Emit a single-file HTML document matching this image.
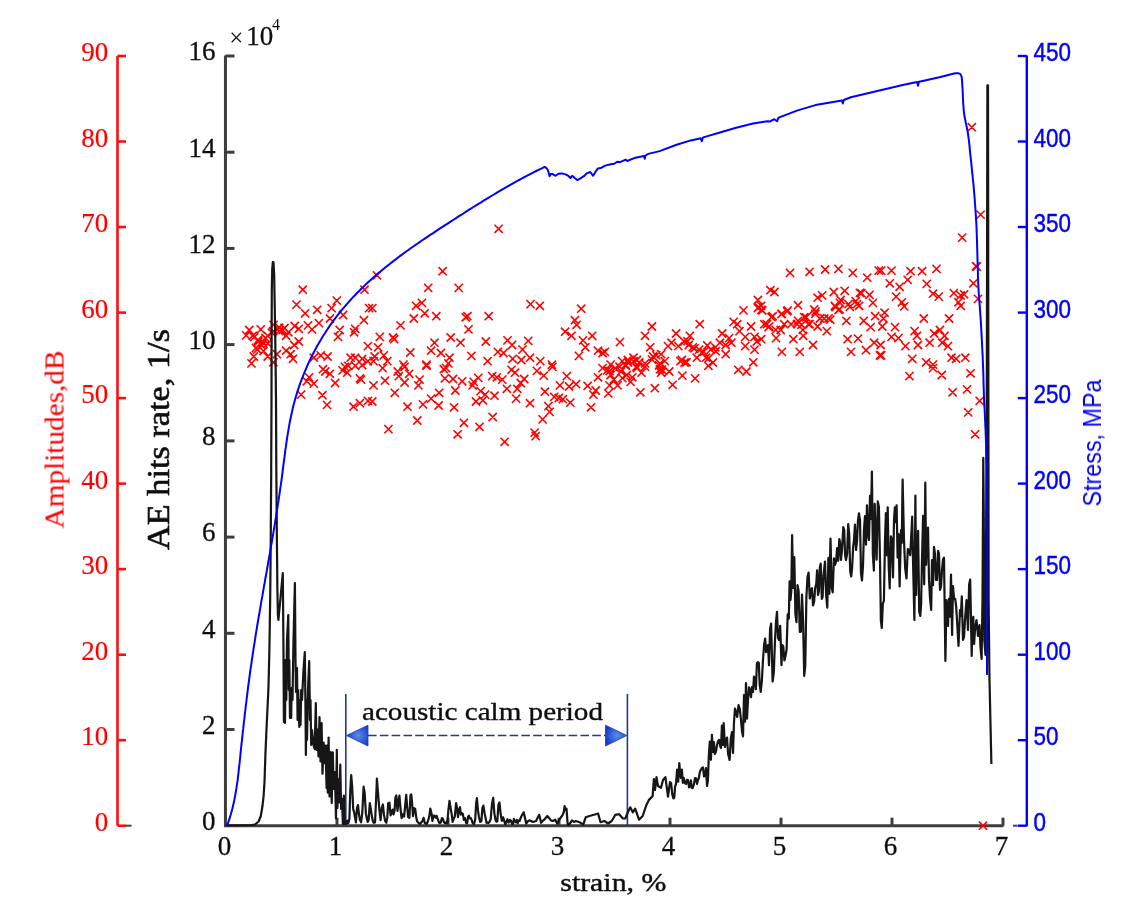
<!DOCTYPE html><html><head><meta charset="utf-8"><style>html,body{margin:0;padding:0;background:#fff;overflow:hidden;}svg{display:block;}</style></head><body><svg width="1130" height="911" viewBox="0 0 1130 911">
<defs><radialGradient id="ag" cx="0.55" cy="0.5" r="0.6"><stop offset="0" stop-color="#5c8fe0"/><stop offset="1" stop-color="#1436c8"/></radialGradient><filter id="bl" filterUnits="userSpaceOnUse" x="0" y="0" width="1130" height="911"><feGaussianBlur stdDeviation="0.65"/></filter></defs>
<rect width="1130" height="911" fill="#fff"/>
<g filter="url(#bl)">
<g stroke="#ff1010" stroke-width="2.6" fill="none">
<path d="M117.5,56.0 L117.5,825.7"/>
<path d="M117.5,825.7 L126,825.7"/>
<path d="M117.5,740.2 L126,740.2"/>
<path d="M117.5,654.7 L126,654.7"/>
<path d="M117.5,569.1 L126,569.1"/>
<path d="M117.5,483.6 L126,483.6"/>
<path d="M117.5,398.1 L126,398.1"/>
<path d="M117.5,312.6 L126,312.6"/>
<path d="M117.5,227.0 L126,227.0"/>
<path d="M117.5,141.5 L126,141.5"/>
<path d="M117.5,56.0 L126,56.0"/>
</g>
<path d="M126,825.7 L131.5,825.7" stroke="#444" stroke-width="2"/>
<g stroke="#3d3d3d" stroke-width="3.0" fill="none">
<path d="M225.45,55.5 L225.45,825.7 L1003.5,825.7"/>
<path d="M225.45,729.5 L234.5,729.5"/>
<path d="M225.45,633.3 L234.5,633.3"/>
<path d="M225.45,537.1 L234.5,537.1"/>
<path d="M225.45,440.9 L234.5,440.9"/>
<path d="M225.45,344.6 L234.5,344.6"/>
<path d="M225.45,248.4 L234.5,248.4"/>
<path d="M225.45,152.2 L234.5,152.2"/>
<path d="M225.45,56.0 L234.5,56.0"/>
<path d="M337.0,825.7 L337.0,817.7"/>
<path d="M448.0,825.7 L448.0,817.7"/>
<path d="M559.0,825.7 L559.0,817.7"/>
<path d="M670.0,825.7 L670.0,817.7"/>
<path d="M781.0,825.7 L781.0,817.7"/>
<path d="M892.0,825.7 L892.0,817.7"/>
<path d="M1003.0,825.7 L1003.0,817.7"/>
</g>
<g stroke="#0000ff" stroke-width="2.4" fill="none">
<path d="M1026.8,55.5 L1026.8,826.2"/>
<path d="M1017.8,825.7 L1026.8,825.7"/>
<path d="M1017.8,740.2 L1026.8,740.2"/>
<path d="M1017.8,654.7 L1026.8,654.7"/>
<path d="M1017.8,569.1 L1026.8,569.1"/>
<path d="M1017.8,483.6 L1026.8,483.6"/>
<path d="M1017.8,398.1 L1026.8,398.1"/>
<path d="M1017.8,312.6 L1026.8,312.6"/>
<path d="M1017.8,227.0 L1026.8,227.0"/>
<path d="M1017.8,141.5 L1026.8,141.5"/>
<path d="M1017.8,56.0 L1026.8,56.0"/>
</g>
<path d="M1013,825.7 L1017.5,825.7" stroke="#444" stroke-width="2"/>
<g stroke="#1f3a93" stroke-width="1.6" fill="none">
<path d="M345.8,694 L345.8,826"/><path d="M627.4,694 L627.4,826"/>
<path d="M368,735.5 L606,735.5" stroke-dasharray="8.6,3.2"/>
</g>
<path d="M346.5,735.5 L368,725.2 L368,746 Z" fill="url(#ag)" stroke="#1a3cc0" stroke-width="0.8"/>
<path d="M626.8,735.5 L605.5,725.2 L605.5,746 Z" fill="url(#ag)" stroke="#1a3cc0" stroke-width="0.8"/>
<path d="M298.7,285.6L306.9,293.8M298.7,293.8L306.9,285.6M292.4,300.5L300.6,308.7M292.4,308.7L300.6,300.5M301.0,309.2L309.2,317.4M301.0,317.4L309.2,309.2M313.1,305.7L321.3,313.9M313.1,313.9L321.3,305.7M332.7,296.5L340.9,304.7M332.7,304.7L340.9,296.5M327.5,304.0L335.7,312.2M327.5,312.2L335.7,304.0M325.8,314.4L334.0,322.6M325.8,322.6L334.0,314.4M339.0,310.9L347.2,319.1M339.0,319.1L347.2,310.9M314.8,319.0L323.0,327.2M314.8,327.2L323.0,319.0M303.9,321.3L312.1,329.5M303.9,329.5L312.1,321.3M307.9,325.3L316.1,333.5M307.9,333.5L316.1,325.3M290.6,321.9L298.8,330.1M290.6,330.1L298.8,321.9M294.7,324.7L302.9,332.9M294.7,332.9L302.9,324.7M360.4,285.6L368.6,293.8M360.4,293.8L368.6,285.6M365.0,304.0L373.2,312.2M365.0,312.2L373.2,304.0M359.8,316.1L368.0,324.3M359.8,324.3L368.0,316.1M351.1,324.7L359.3,332.9M351.1,332.9L359.3,324.7M350.0,328.2L358.2,336.4M350.0,336.4L358.2,328.2M335.6,325.9L343.8,334.1M335.6,334.1L343.8,325.9M333.9,332.8L342.1,341.0M333.9,341.0L342.1,332.8M363.8,342.0L372.0,350.2M363.8,350.2L372.0,342.0M245.1,325.9L253.3,334.1M245.1,334.1L253.3,325.9M256.6,325.3L264.8,333.5M256.6,333.5L264.8,325.3M248.6,331.7L256.8,339.9M248.6,339.9L256.8,331.7M254.3,337.4L262.5,345.6M254.3,345.6L262.5,337.4M258.9,338.6L267.1,346.8M258.9,346.8L267.1,338.6M253.2,345.5L261.4,353.7M253.2,353.7L261.4,345.5M263.6,331.7L271.8,339.9M263.6,339.9L271.8,331.7M269.3,327.0L277.5,335.2M269.3,335.2L277.5,327.0M275.1,323.6L283.3,331.8M275.1,331.8L283.3,323.6M282.0,331.7L290.2,339.9M282.0,339.9L290.2,331.7M278.5,325.9L286.7,334.1M278.5,334.1L286.7,325.9M284.3,328.2L292.5,336.4M284.3,336.4L292.5,328.2M294.7,337.4L302.9,345.6M294.7,345.6L302.9,337.4M290.1,340.9L298.3,349.1M290.1,349.1L298.3,340.9M282.0,346.6L290.2,354.8M282.0,354.8L290.2,346.6M286.6,350.1L294.8,358.3M286.6,358.3L294.8,350.1M288.9,354.7L297.1,362.9M288.9,362.9L297.1,354.7M272.8,350.1L281.0,358.3M272.8,358.3L281.0,350.1M263.6,352.4L271.8,360.6M263.6,360.6L271.8,352.4M249.7,352.4L257.9,360.6M249.7,360.6L257.9,352.4M247.4,359.3L255.6,367.5M247.4,367.5L255.6,359.3M269.3,358.2L277.5,366.4M269.3,366.4L277.5,358.2M309.7,353.6L317.9,361.8M309.7,361.8L317.9,353.6M323.5,352.4L331.7,360.6M323.5,360.6L331.7,352.4M316.6,351.3L324.8,359.5M316.6,359.5L324.8,351.3M346.5,353.6L354.7,361.8M346.5,361.8L354.7,353.6M351.1,353.6L359.3,361.8M351.1,361.8L359.3,353.6M358.1,354.7L366.3,362.9M358.1,362.9L366.3,354.7M363.8,357.0L372.0,365.2M363.8,365.2L372.0,357.0M305.0,373.2L313.2,381.4M305.0,381.4L313.2,373.2M302.7,377.2L310.9,385.4M302.7,385.4L310.9,377.2M309.7,379.5L317.9,387.7M309.7,387.7L317.9,379.5M297.0,390.5L305.2,398.7M297.0,398.7L305.2,390.5M318.3,391.1L326.5,399.3M318.3,399.3L326.5,391.1M322.9,400.8L331.1,409.0M322.9,409.0L331.1,400.8M331.0,378.9L339.2,387.1M331.0,387.1L339.2,378.9M321.2,367.4L329.4,375.6M321.2,375.6L329.4,367.4M318.9,365.1L327.1,373.3M318.9,373.3L327.1,365.1M325.8,369.7L334.0,377.9M325.8,377.9L334.0,369.7M338.5,366.3L346.7,374.5M338.5,374.5L346.7,366.3M343.1,368.6L351.3,376.8M343.1,376.8L351.3,368.6M340.8,362.8L349.0,371.0M340.8,371.0L349.0,362.8M356.9,375.5L365.1,383.7M356.9,383.7L365.1,375.5M355.8,374.3L364.0,382.5M355.8,382.5L364.0,374.3M349.4,402.6L357.6,410.8M349.4,410.8L357.6,402.6M355.8,399.1L364.0,407.3M355.8,407.3L364.0,399.1M363.8,396.8L372.0,405.0M363.8,405.0L372.0,396.8M344.2,361.7L352.4,369.9M344.2,369.9L352.4,361.7M351.1,361.7L359.3,369.9M351.1,369.9L359.3,361.7M358.1,361.1L366.3,369.3M358.1,369.3L366.3,361.1M372.8,271.2L381.0,279.4M372.8,279.4L381.0,271.2M438.5,267.1L446.7,275.3M438.5,275.3L446.7,267.1M424.1,283.8L432.3,292.0M424.1,292.0L432.3,283.8M454.6,283.8L462.8,292.0M454.6,292.0L462.8,283.8M368.2,304.0L376.4,312.2M368.2,312.2L376.4,304.0M412.0,301.7L420.2,309.9M412.0,309.9L420.2,301.7M417.8,298.8L426.0,307.0M417.8,307.0L426.0,298.8M420.6,309.2L428.8,317.4M420.6,317.4L428.8,309.2M432.2,312.1L440.4,320.3M432.2,320.3L440.4,312.1M409.7,314.4L417.9,322.6M409.7,322.6L417.9,314.4M396.4,321.3L404.6,329.5M396.4,329.5L404.6,321.3M461.6,313.2L469.8,321.4M461.6,321.4L469.8,313.2M463.3,312.1L471.5,320.3M463.3,320.3L471.5,312.1M484.6,312.1L492.8,320.3M484.6,320.3L492.8,312.1M464.4,325.3L472.6,333.5M464.4,333.5L472.6,325.3M375.7,332.8L383.9,341.0M375.7,341.0L383.9,332.8M388.9,333.4L397.1,341.6M388.9,341.6L397.1,333.4M390.1,335.1L398.3,343.3M390.1,343.3L398.3,335.1M446.6,333.4L454.8,341.6M446.6,341.6L454.8,333.4M456.4,338.6L464.6,346.8M456.4,346.8L464.6,338.6M481.7,337.4L489.9,345.6M481.7,345.6L489.9,337.4M430.4,338.6L438.6,346.8M430.4,346.8L438.6,338.6M427.0,346.6L435.2,354.8M427.0,354.8L435.2,346.6M436.8,348.9L445.0,357.1M436.8,357.1L445.0,348.9M445.4,353.6L453.6,361.8M445.4,361.8L453.6,353.6M444.3,359.3L452.5,367.5M444.3,367.5L452.5,359.3M406.2,348.4L414.4,356.6M406.2,356.6L414.4,348.4M374.0,343.2L382.2,351.4M374.0,351.4L382.2,343.2M379.7,351.3L387.9,359.5M379.7,359.5L387.9,351.3M370.5,352.4L378.7,360.6M370.5,360.6L378.7,352.4M369.4,357.0L377.6,365.2M369.4,365.2L377.6,357.0M383.2,357.0L391.4,365.2M383.2,365.2L391.4,357.0M399.3,360.5L407.5,368.7M399.3,368.7L407.5,360.5M422.4,360.5L430.6,368.7M422.4,368.7L430.6,360.5M467.3,351.8L475.5,360.0M467.3,360.0L475.5,351.8M483.5,357.0L491.7,365.2M483.5,365.2L491.7,357.0M493.8,347.8L502.0,356.0M493.8,356.0L502.0,347.8M422.4,361.7L430.6,369.9M422.4,369.9L430.6,361.7M442.0,364.0L450.2,372.2M442.0,372.2L450.2,364.0M439.7,365.1L447.9,373.3M439.7,373.3L447.9,365.1M440.8,374.3L449.0,382.5M440.8,382.5L449.0,374.3M448.9,374.9L457.1,383.1M448.9,383.1L457.1,374.9M458.1,377.2L466.3,385.4M458.1,385.4L466.3,377.2M469.6,377.8L477.8,386.0M469.6,386.0L477.8,377.8M468.5,381.3L476.7,389.5M468.5,389.5L476.7,381.3M474.2,373.8L482.4,382.0M474.2,382.0L482.4,373.8M488.1,372.0L496.3,380.2M488.1,380.2L496.3,372.0M492.7,373.2L500.9,381.4M492.7,381.4L500.9,373.2M476.5,387.0L484.7,395.2M476.5,395.2L484.7,387.0M481.1,390.5L489.3,398.7M481.1,398.7L489.3,390.5M490.4,391.6L498.6,399.8M490.4,399.8L498.6,391.6M471.9,397.4L480.1,405.6M471.9,405.6L480.1,397.4M478.8,396.2L487.0,404.4M478.8,404.4L487.0,396.2M451.2,386.4L459.4,394.6M451.2,394.6L459.4,386.4M369.4,381.3L377.6,389.5M369.4,389.5L377.6,381.3M380.9,376.6L389.1,384.8M380.9,384.8L389.1,376.6M378.6,364.0L386.8,372.2M378.6,372.2L386.8,364.0M393.6,367.4L401.8,375.6M393.6,375.6L401.8,367.4M394.7,372.0L402.9,380.2M394.7,380.2L402.9,372.0M400.5,362.8L408.7,371.0M400.5,371.0L408.7,362.8M405.1,369.7L413.3,377.9M405.1,377.9L413.3,369.7M400.5,378.4L408.7,386.6M400.5,386.6L408.7,378.4M415.5,375.5L423.7,383.7M415.5,383.7L423.7,375.5M414.3,381.3L422.5,389.5M414.3,389.5L422.5,381.3M390.7,388.7L398.9,396.9M390.7,396.9L398.9,388.7M368.2,397.4L376.4,405.6M368.2,405.6L376.4,397.4M403.4,402.6L411.6,410.8M403.4,410.8L411.6,402.6M418.9,400.3L427.1,408.5M418.9,408.5L427.1,400.3M427.0,394.5L435.2,402.7M427.0,402.7L435.2,394.5M435.0,388.7L443.2,396.9M435.0,396.9L443.2,388.7M434.5,401.4L442.7,409.6M434.5,409.6L442.7,401.4M450.0,403.2L458.2,411.4M450.0,411.4L458.2,403.2M413.2,416.4L421.4,424.6M413.2,424.6L421.4,416.4M384.3,425.0L392.5,433.2M384.3,433.2L392.5,425.0M453.5,430.2L461.7,438.4M453.5,438.4L461.7,430.2M459.8,418.7L468.0,426.9M459.8,426.9L468.0,418.7M475.4,422.7L483.6,430.9M475.4,430.9L483.6,422.7M488.6,412.9L496.8,421.1M488.6,421.1L496.8,412.9M526.4,300.0L534.6,308.2M526.4,308.2L534.6,300.0M535.7,301.7L543.9,309.9M535.7,309.9L543.9,301.7M577.1,304.6L585.3,312.8M577.1,312.8L585.3,304.6M570.8,316.1L579.0,324.3M570.8,324.3L579.0,316.1M572.5,320.7L580.7,328.9M572.5,328.9L580.7,320.7M561.0,327.6L569.2,335.8M561.0,335.8L569.2,327.6M567.4,331.7L575.6,339.9M567.4,339.9L575.6,331.7M578.9,336.3L587.1,344.5M578.9,344.5L587.1,336.3M588.1,331.7L596.3,339.9M588.1,339.9L596.3,331.7M581.2,343.2L589.4,351.4M581.2,351.4L589.4,343.2M574.8,351.8L583.0,360.0M574.8,360.0L583.0,351.8M593.9,346.6L602.1,354.8M593.9,354.8L602.1,346.6M598.5,348.9L606.7,357.1M598.5,357.1L606.7,348.9M600.8,347.8L609.0,356.0M600.8,356.0L609.0,347.8M615.8,338.0L624.0,346.2M615.8,346.2L624.0,338.0M503.4,336.3L511.6,344.5M503.4,344.5L511.6,336.3M508.0,340.9L516.2,349.1M508.0,349.1L516.2,340.9M524.1,336.8L532.3,345.0M524.1,345.0L532.3,336.8M499.4,348.9L507.6,357.1M499.4,357.1L507.6,348.9M518.4,345.5L526.6,353.7M518.4,353.7L526.6,345.5M508.6,354.7L516.8,362.9M508.6,362.9L516.8,354.7M517.2,355.9L525.4,364.1M517.2,364.1L525.4,355.9M525.9,353.6L534.1,361.8M525.9,361.8L534.1,353.6M536.2,357.0L544.4,365.2M536.2,365.2L544.4,357.0M547.8,360.5L556.0,368.7M547.8,368.7L556.0,360.5M618.1,357.0L626.3,365.2M618.1,365.2L626.3,357.0M623.8,355.9L632.0,364.1M623.8,364.1L632.0,355.9M606.5,360.5L614.7,368.7M606.5,368.7L614.7,360.5M621.5,360.5L629.7,368.7M621.5,368.7L629.7,360.5M507.4,365.7L515.6,373.9M507.4,373.9L515.6,365.7M510.9,368.6L519.1,376.8M510.9,376.8L519.1,368.6M498.2,375.5L506.4,383.7M498.2,383.7L506.4,375.5M520.1,374.9L528.3,383.1M520.1,383.1L528.3,374.9M516.6,378.9L524.8,387.1M516.6,387.1L524.8,378.9M502.8,384.7L511.0,392.9M502.8,392.9L511.0,384.7M513.2,384.7L521.4,392.9M513.2,392.9L521.4,384.7M512.0,394.5L520.2,402.7M512.0,402.7L520.2,394.5M525.9,399.1L534.1,407.3M525.9,407.3L534.1,399.1M532.8,366.8L541.0,375.0M532.8,375.0L541.0,366.8M539.7,371.5L547.9,379.7M539.7,379.7L547.9,371.5M548.3,362.8L556.5,371.0M548.3,371.0L556.5,362.8M562.7,372.0L570.9,380.2M562.7,380.2L570.9,372.0M555.8,381.3L564.0,389.5M555.8,389.5L564.0,381.3M565.0,382.4L573.2,390.6M565.0,390.6L573.2,382.4M572.0,380.1L580.2,388.3M572.0,388.3L580.2,380.1M583.5,381.8L591.7,390.0M583.5,390.0L591.7,381.8M591.6,386.4L599.8,394.6M591.6,394.6L599.8,386.4M589.3,390.5L597.5,398.7M589.3,398.7L597.5,390.5M593.9,373.2L602.1,381.4M593.9,381.4L602.1,373.2M603.1,366.3L611.3,374.5M603.1,374.5L611.3,366.3M606.5,370.9L614.7,379.1M606.5,379.1L614.7,370.9M611.1,364.0L619.3,372.2M611.1,372.2L619.3,364.0M616.9,367.4L625.1,375.6M616.9,375.6L625.1,367.4M622.7,370.9L630.9,379.1M622.7,379.1L630.9,370.9M605.4,381.3L613.6,389.5M605.4,389.5L613.6,381.3M613.5,381.3L621.7,389.5M613.5,389.5L621.7,381.3M604.2,389.3L612.4,397.5M604.2,397.5L612.4,389.3M540.8,387.6L549.0,395.8M540.8,395.8L549.0,387.6M550.1,392.8L558.3,401.0M550.1,401.0L558.3,392.8M554.7,393.9L562.9,402.1M554.7,402.1L562.9,393.9M558.7,395.1L566.9,403.3M558.7,403.3L566.9,395.1M566.2,398.5L574.4,406.7M566.2,406.7L574.4,398.5M544.3,402.0L552.5,410.2M544.3,410.2L552.5,402.0M545.5,407.8L553.7,416.0M545.5,416.0L553.7,407.8M538.5,415.3L546.7,423.5M538.5,423.5L546.7,415.3M530.5,428.5L538.7,436.7M530.5,436.7L538.7,428.5M531.6,432.0L539.8,440.2M531.6,440.2L539.8,432.0M500.5,437.7L508.7,445.9M500.5,445.9L508.7,437.7M586.9,403.2L595.1,411.4M586.9,411.4L595.1,403.2M621.5,361.7L629.7,369.9M621.5,369.9L629.7,361.7M647.8,322.4L656.0,330.6M647.8,330.6L656.0,322.4M640.9,331.7L649.1,339.9M640.9,339.9L649.1,331.7M646.1,343.2L654.3,351.4M646.1,351.4L654.3,343.2M672.0,329.4L680.2,337.6M672.0,337.6L680.2,329.4M685.8,331.7L694.0,339.9M685.8,339.9L694.0,331.7M695.6,320.1L703.8,328.3M695.6,328.3L703.8,320.1M739.4,306.3L747.6,314.5M739.4,314.5L747.6,306.3M753.8,295.9L762.0,304.1M753.8,304.1L762.0,295.9M753.8,304.0L762.0,312.2M753.8,312.2L762.0,304.0M729.6,317.8L737.8,326.0M729.6,326.0L737.8,317.8M733.1,320.1L741.3,328.3M733.1,328.3L741.3,320.1M746.9,322.4L755.1,330.6M746.9,330.6L755.1,322.4M718.1,329.4L726.3,337.6M718.1,337.6L726.3,329.4M725.0,334.0L733.2,342.2M725.0,342.2L733.2,334.0M735.4,327.0L743.6,335.2M735.4,335.2L743.6,327.0M741.1,332.8L749.3,341.0M741.1,341.0L749.3,332.8M750.4,332.8L758.6,341.0M750.4,341.0L758.6,332.8M752.7,337.4L760.9,345.6M752.7,345.6L760.9,337.4M629.4,353.6L637.6,361.8M629.4,361.8L637.6,353.6M632.8,355.9L641.0,364.1M632.8,364.1L641.0,355.9M648.9,352.4L657.1,360.6M648.9,360.6L657.1,352.4M657.0,350.1L665.2,358.3M657.0,358.3L665.2,350.1M663.9,342.0L672.1,350.2M663.9,350.2L672.1,342.0M667.4,338.6L675.6,346.8M667.4,346.8L675.6,338.6M674.3,342.0L682.5,350.2M674.3,350.2L682.5,342.0M680.1,337.4L688.3,345.6M680.1,345.6L688.3,337.4M684.7,340.9L692.9,349.1M684.7,349.1L692.9,340.9M688.7,343.2L696.9,351.4M688.7,351.4L696.9,343.2M695.0,345.5L703.2,353.7M695.0,353.7L703.2,345.5M699.7,347.8L707.9,356.0M699.7,356.0L707.9,347.8M702.0,353.6L710.2,361.8M702.0,361.8L710.2,353.6M706.6,345.5L714.8,353.7M706.6,353.7L714.8,345.5M711.2,343.2L719.4,351.4M711.2,351.4L719.4,343.2M715.8,338.6L724.0,346.8M715.8,346.8L724.0,338.6M721.6,340.9L729.8,349.1M721.6,349.1L729.8,340.9M721.6,350.1L729.8,358.3M721.6,358.3L729.8,350.1M727.3,338.6L735.5,346.8M727.3,346.8L735.5,338.6M741.1,342.0L749.3,350.2M741.1,350.2L749.3,342.0M750.4,345.5L758.6,353.7M750.4,353.7L758.6,345.5M749.2,358.2L757.4,366.4M749.2,366.4L757.4,358.2M677.8,355.9L686.0,364.1M677.8,364.1L686.0,355.9M682.4,358.2L690.6,366.4M682.4,366.4L690.6,358.2M692.7,353.6L700.9,361.8M692.7,361.8L700.9,353.6M655.9,359.3L664.1,367.5M655.9,367.5L664.1,359.3M640.9,359.3L649.1,367.5M640.9,367.5L649.1,359.3M632.8,364.0L641.0,372.2M632.8,372.2L641.0,364.0M637.4,368.6L645.6,376.8M637.4,376.8L645.6,368.6M628.2,373.2L636.4,381.4M628.2,381.4L636.4,373.2M626.5,377.8L634.7,386.0M626.5,386.0L634.7,377.8M636.3,388.2L644.5,396.4M636.3,396.4L644.5,388.2M650.7,384.1L658.9,392.3M650.7,392.3L658.9,384.1M655.9,365.1L664.1,373.3M655.9,373.3L664.1,365.1M657.0,368.6L665.2,376.8M657.0,376.8L665.2,368.6M665.1,367.4L673.3,375.6M665.1,375.6L673.3,367.4M668.5,380.7L676.7,388.9M668.5,388.9L676.7,380.7M678.3,371.5L686.5,379.7M678.3,379.7L686.5,371.5M691.0,374.3L699.2,382.5M691.0,382.5L699.2,374.3M704.3,361.7L712.5,369.9M704.3,369.9L712.5,361.7M734.2,365.7L742.4,373.9M734.2,373.9L742.4,365.7M742.3,367.4L750.5,375.6M742.3,375.6L750.5,367.4M785.9,268.8L794.1,277.0M785.9,277.0L794.1,268.8M805.5,267.7L813.7,275.9M805.5,275.9L813.7,267.7M821.0,265.4L829.2,273.6M821.0,273.6L829.2,265.4M834.3,264.8L842.5,273.0M834.3,273.0L842.5,264.8M848.7,268.8L856.9,277.0M848.7,277.0L856.9,268.8M863.1,273.5L871.3,281.7M863.1,281.7L871.3,273.5M874.6,266.5L882.8,274.7M874.6,274.7L882.8,266.5M766.3,286.1L774.5,294.3M766.3,294.3L774.5,286.1M770.3,287.9L778.5,296.1M770.3,296.1L778.5,287.9M757.1,301.7L765.3,309.9M757.1,309.9L765.3,301.7M758.2,306.3L766.4,314.5M758.2,314.5L766.4,306.3M813.5,293.6L821.7,301.8M813.5,301.8L821.7,293.6M818.1,291.3L826.3,299.5M818.1,299.5L826.3,291.3M829.7,287.9L837.9,296.1M829.7,296.1L837.9,287.9M840.6,286.7L848.8,294.9M840.6,294.9L848.8,286.7M857.3,289.0L865.5,297.2M857.3,297.2L865.5,289.0M865.4,290.7L873.6,298.9M865.4,298.9L873.6,290.7M868.8,298.8L877.0,307.0M868.8,307.0L877.0,298.8M851.6,297.1L859.8,305.3M851.6,305.3L859.8,297.1M855.0,301.7L863.2,309.9M855.0,309.9L863.2,301.7M845.8,302.8L854.0,311.0M845.8,311.0L854.0,302.8M836.6,295.9L844.8,304.1M836.6,304.1L844.8,295.9M830.8,301.7L839.0,309.9M830.8,309.9L839.0,301.7M835.4,305.2L843.6,313.4M835.4,313.4L843.6,305.2M826.2,315.5L834.4,323.7M826.2,323.7L834.4,315.5M842.3,316.7L850.5,324.9M842.3,324.9L850.5,316.7M793.9,301.1L802.1,309.3M793.9,309.3L802.1,301.1M783.6,306.3L791.8,314.5M783.6,314.5L791.8,306.3M777.8,309.8L786.0,318.0M777.8,318.0L786.0,309.8M768.6,312.1L776.8,320.3M768.6,320.3L776.8,312.1M762.8,320.1L771.0,328.3M762.8,328.3L771.0,320.1M765.1,322.4L773.3,330.6M765.1,330.6L773.3,322.4M810.1,305.2L818.3,313.4M810.1,313.4L818.3,305.2M811.2,309.8L819.4,318.0M811.2,318.0L819.4,309.8M802.0,313.2L810.2,321.4M802.0,321.4L810.2,313.2M793.9,316.7L802.1,324.9M793.9,324.9L802.1,316.7M797.4,320.7L805.6,328.9M797.4,328.9L805.6,320.7M805.5,320.1L813.7,328.3M805.5,328.3L813.7,320.1M813.5,322.4L821.7,330.6M813.5,330.6L821.7,322.4M822.7,327.0L830.9,335.2M822.7,335.2L830.9,327.0M776.6,325.9L784.8,334.1M776.6,334.1L784.8,325.9M787.0,320.1L795.2,328.3M787.0,328.3L795.2,320.1M772.0,334.0L780.2,342.2M772.0,342.2L780.2,334.0M789.3,335.1L797.5,343.3M789.3,343.3L797.5,335.1M799.1,331.7L807.3,339.9M799.1,339.9L807.3,331.7M808.9,340.9L817.1,349.1M808.9,349.1L817.1,340.9M777.8,347.8L786.0,356.0M777.8,356.0L786.0,347.8M795.7,347.8L803.9,356.0M795.7,356.0L803.9,347.8M859.6,316.7L867.8,324.9M859.6,324.9L867.8,316.7M866.5,323.0L874.7,331.2M866.5,331.2L874.7,323.0M871.1,312.1L879.3,320.3M871.1,320.3L879.3,312.1M843.5,335.1L851.7,343.3M843.5,343.3L851.7,335.1M853.9,334.5L862.1,342.7M853.9,342.7L862.1,334.5M846.9,347.8L855.1,356.0M846.9,356.0L855.1,347.8M861.9,346.1L870.1,354.3M861.9,354.3L870.1,346.1M870.0,338.6L878.2,346.8M870.0,346.8L878.2,338.6M875.8,351.3L884.0,359.5M875.8,359.5L884.0,351.3M757.1,335.1L765.3,343.3M757.1,343.3L765.3,335.1M877.1,266.5L885.3,274.7M877.1,274.7L885.3,266.5M887.4,266.5L895.6,274.7M887.4,274.7L895.6,266.5M906.4,267.1L914.6,275.3M906.4,275.3L914.6,267.1M918.0,267.1L926.2,275.3M918.0,275.3L926.2,267.1M932.4,264.8L940.6,273.0M932.4,273.0L940.6,264.8M972.7,262.5L980.9,270.7M972.7,270.7L980.9,262.5M885.7,279.2L893.9,287.4M885.7,287.4L893.9,279.2M895.5,282.7L903.7,290.9M895.5,290.9L903.7,282.7M903.6,275.8L911.8,284.0M903.6,284.0L911.8,275.8M922.6,279.8L930.8,288.0M922.6,288.0L930.8,279.8M928.9,289.6L937.1,297.8M928.9,297.8L937.1,289.6M934.7,292.5L942.9,300.7M934.7,300.7L942.9,292.5M949.7,289.0L957.9,297.2M949.7,297.2L957.9,289.0M956.6,291.3L964.8,299.5M956.6,299.5L964.8,291.3M960.0,290.2L968.2,298.4M960.0,298.4L968.2,290.2M954.3,298.2L962.5,306.4M954.3,306.4L962.5,298.2M956.6,301.7L964.8,309.9M956.6,309.9L964.8,301.7M969.3,279.2L977.5,287.4M969.3,287.4L977.5,279.2M973.9,294.8L982.1,303.0M973.9,303.0L982.1,294.8M892.0,292.5L900.2,300.7M892.0,300.7L900.2,292.5M897.8,298.2L906.0,306.4M897.8,306.4L906.0,298.2M900.1,302.3L908.3,310.5M900.1,310.5L908.3,302.3M880.5,308.6L888.7,316.8M880.5,316.8L888.7,308.6M879.4,314.4L887.6,322.6M879.4,322.6L887.6,314.4M878.2,322.4L886.4,330.6M878.2,330.6L886.4,322.4M890.9,323.0L899.1,331.2M890.9,331.2L899.1,323.0M887.4,332.8L895.6,341.0M887.4,341.0L895.6,332.8M894.3,334.0L902.5,342.2M894.3,342.2L902.5,334.0M901.3,342.0L909.5,350.2M901.3,350.2L909.5,342.0M910.5,327.0L918.7,335.2M910.5,335.2L918.7,327.0M912.8,331.7L921.0,339.9M912.8,339.9L921.0,331.7M913.9,340.9L922.1,349.1M913.9,349.1L922.1,340.9M919.7,314.4L927.9,322.6M919.7,322.6L927.9,314.4M925.5,338.6L933.7,346.8M925.5,346.8L933.7,338.6M930.1,329.4L938.3,337.6M930.1,337.6L938.3,329.4M935.8,325.9L944.0,334.1M935.8,334.1L944.0,325.9M940.4,331.7L948.6,339.9M940.4,339.9L948.6,331.7M938.1,338.6L946.3,346.8M938.1,346.8L946.3,338.6M945.0,314.4L953.2,322.6M945.0,322.6L953.2,314.4M943.9,342.0L952.1,350.2M943.9,350.2L952.1,342.0M947.4,353.6L955.6,361.8M947.4,361.8L955.6,353.6M952.0,354.7L960.2,362.9M952.0,362.9L960.2,354.7M961.2,353.6L969.4,361.8M961.2,361.8L969.4,353.6M908.2,354.7L916.4,362.9M908.2,362.9L916.4,354.7M922.0,358.2L930.2,366.4M922.0,366.4L930.2,358.2M928.9,360.5L937.1,368.7M928.9,368.7L937.1,360.5M877.1,351.3L885.3,359.5M877.1,359.5L885.3,351.3M876.5,340.9L884.7,349.1M876.5,349.1L884.7,340.9M928.9,364.0L937.1,372.2M928.9,372.2L937.1,364.0M937.6,370.9L945.8,379.1M937.6,379.1L945.8,370.9M905.3,372.0L913.5,380.2M905.3,380.2L913.5,372.0M966.4,369.2L974.6,377.4M966.4,377.4L974.6,369.2M948.5,388.2L956.7,396.4M948.5,396.4L956.7,388.2M962.9,385.3L971.1,393.5M962.9,393.5L971.1,385.3M975.6,396.8L983.8,405.0M975.6,405.0L983.8,396.8M964.1,408.3L972.3,416.5M964.1,416.5L972.3,408.3M971.0,430.2L979.2,438.4M971.0,438.4L979.2,430.2M494.5,224.7L502.7,232.9M494.5,232.9L502.7,224.7M967.7,123.1L975.9,131.3M967.7,131.3L975.9,123.1M976.5,210.5L984.7,218.7M976.5,218.7L984.7,210.5M958.1,233.5L966.3,241.7M958.1,241.7L966.3,233.5M971.9,262.2L980.1,270.4M971.9,270.4L980.1,262.2M978.9,821.6L987.1,829.8M978.9,829.8L987.1,821.6M754.5,303.0L762.7,311.2M754.5,311.2L762.7,303.0M757.3,305.8L765.5,314.0M757.3,314.0L765.5,305.8M760.2,320.1L768.4,328.3M760.2,328.3L768.4,320.1M764.4,323.0L772.6,331.2M764.4,331.2L772.6,323.0M767.3,313.0L775.5,321.2M767.3,321.2L775.5,313.0M777.3,310.1L785.5,318.3M777.3,318.3L785.5,310.1M783.0,307.3L791.2,315.5M783.0,315.5L791.2,307.3M780.1,320.1L788.3,328.3M780.1,328.3L788.3,320.1M793.0,320.1L801.2,328.3M793.0,328.3L801.2,320.1M800.1,313.0L808.3,321.2M800.1,321.2L808.3,313.0M804.4,320.1L812.6,328.3M804.4,328.3L812.6,320.1M811.5,307.3L819.7,315.5M811.5,315.5L819.7,307.3M815.8,314.4L824.0,322.6M815.8,322.6L824.0,314.4M820.1,314.4L828.3,322.6M820.1,322.6L828.3,314.4M824.4,314.4L832.6,322.6M824.4,322.6L832.6,314.4M831.5,303.0L839.7,311.2M831.5,311.2L839.7,303.0M834.4,305.8L842.6,314.0M834.4,314.0L842.6,305.8M835.8,298.7L844.0,306.9M835.8,306.9L844.0,298.7M844.4,300.1L852.6,308.3M844.4,308.3L852.6,300.1M852.9,300.1L861.1,308.3M852.9,308.3L861.1,300.1M855.8,288.7L864.0,296.9M855.8,296.9L864.0,288.7M771.6,325.8L779.8,334.0M771.6,334.0L779.8,325.8M798.7,325.8L806.9,334.0M798.7,334.0L806.9,325.8M635.2,358.4L643.4,366.6M635.2,366.6L643.4,358.4M640.9,362.6L649.1,370.8M640.9,370.8L649.1,362.6M647.9,355.5L656.1,363.7M647.9,363.7L656.1,355.5M655.0,361.2L663.2,369.4M655.0,369.4L663.2,361.2M657.8,365.5L666.0,373.7M657.8,373.7L666.0,365.5M660.7,357.0L668.9,365.2M660.7,365.2L668.9,357.0M652.2,351.3L660.4,359.5M652.2,359.5L660.4,351.3M690.4,344.2L698.6,352.4M690.4,352.4L698.6,344.2M697.5,348.5L705.7,356.7M697.5,356.7L705.7,348.5M704.6,354.1L712.8,362.3M704.6,362.3L712.8,354.1M708.8,358.4L717.0,366.6M708.8,366.6L717.0,358.4M711.7,347.1L719.9,355.3M711.7,355.3L719.9,347.1M703.2,341.4L711.4,349.6M703.2,349.6L711.4,341.4M683.3,337.1L691.5,345.3M683.3,345.3L691.5,337.1M676.3,357.0L684.5,365.2M676.3,365.2L684.5,357.0M680.5,358.4L688.7,366.6M680.5,366.6L688.7,358.4M629.5,357.0L637.7,365.2M629.5,365.2L637.7,357.0M632.4,362.6L640.6,370.8M632.4,370.8L640.6,362.6M623.9,358.4L632.1,366.6M623.9,366.6L632.1,358.4M615.4,362.6L623.6,370.8M615.4,370.8L623.6,362.6M605.5,366.9L613.7,375.1M605.5,375.1L613.7,366.9M609.7,375.4L617.9,383.6M609.7,383.6L617.9,375.4M618.2,374.0L626.4,382.2M618.2,382.2L626.4,374.0M598.4,364.0L606.6,372.2M598.4,372.2L606.6,364.0M253.9,335.9L262.1,344.1M253.9,344.1L262.1,335.9M257.9,341.4L266.1,349.6M257.9,349.6L266.1,341.4M261.4,333.9L269.6,342.1M261.4,342.1L269.6,333.9M251.9,343.9L260.1,352.1M251.9,352.1L260.1,343.9M259.4,346.9L267.6,355.1M259.4,355.1L267.6,346.9M263.9,339.4L272.1,347.6M263.9,347.6L272.1,339.4M274.9,326.9L283.1,335.1M274.9,335.1L283.1,326.9M280.4,323.9L288.6,332.1M280.4,332.1L288.6,323.9M242.1,331.3L250.3,339.5M242.1,339.5L250.3,331.3M250.1,333.1L258.3,341.3M250.1,341.3L258.3,333.1M267.8,328.6L276.0,336.8M267.8,336.8L276.0,328.6M269.5,320.7L277.7,328.9M269.5,328.9L277.7,320.7M258.9,338.4L267.1,346.6M258.9,346.6L267.1,338.4" stroke="#ff0000" stroke-width="1.6" fill="none"/>
<path d="M226.0,825.3 L251.6,825.0 L255.0,824.5 L258.6,821.5 L260.8,816.0 L262.5,806.0 L263.6,796.0 L264.5,782.0 L265.5,752.0 L266.5,729.0 L267.5,708.0 L268.4,689.5 L269.4,650.0 L270.3,590.0 L270.8,530.0 L271.2,470.0 L271.5,400.0 L271.6,330.0 L271.8,290.0 L272.2,270.0 L272.8,262.0 L273.5,262.5 L274.2,275.0 L274.6,300.0 L275.3,340.0 L276.0,400.0 L276.3,465.0 L276.8,530.0 L277.4,590.0 L277.9,615.0 L278.4,620.0 L280.5,598.0 L282.8,573.0 L283.4,640.0 L283.9,722.0 L284.4,680.0 L285.0,723.0 L285.6,660.0 L286.3,700.0 L287.0,640.0 L288.3,615.0 L288.8,690.0 L289.3,660.0 L290.0,718.0 L290.5,690.0 L291.2,718.0 L291.6,688.0 L292.5,700.0 L293.5,640.0 L294.9,583.0 L295.5,660.0 L296.0,692.0 L296.5,670.0 L297.0,668.0 L297.6,720.0 L298.2,690.0 L299.3,727.0 L300.0,700.0 L300.5,725.0 L301.2,690.0 L302.0,700.0 L303.5,670.0 L304.8,652.0 L305.4,700.0 L305.9,755.0 L306.5,700.0 L307.0,740.0 L308.0,690.0 L309.2,661.0 L310.0,720.0 L310.5,700.0 L311.2,745.0 L312.0,730.0 L313.5,745.0 L314.7,749.0 L315.8,703.0 L316.6,750.0 L317.6,729.6 L318.5,756.4 L319.5,717.0 L320.5,761.4 L321.6,723.0 L322.5,773.7 L323.6,742.5 L324.3,763.2 L325.5,745.7 L326.6,788.2 L327.2,745.5 L327.8,792.6 L328.6,737.5 L329.5,796.4 L330.7,752.2 L331.7,803.1 L332.8,752.3 L333.6,788.9 L334.9,772.0 L336.0,818.5 L336.8,749.8 L337.4,807.9 L338.3,779.3 L339.2,802.5 L340.3,764.7 L341.1,808.9 L342.0,798.8 L342.9,824.0 L343.9,795.7 L344.7,824.0 L345.5,823.2 L346.4,823.9 L347.2,820.5 L348.3,823.1 L349.4,818.9 L350.3,790.2 L351.2,775.0 L352.2,787.3 L353.2,809.3 L354.0,811.5 L355.0,817.5 L355.9,822.3 L357.0,808.1 L358.0,805.1 L359.0,814.3 L359.9,819.7 L361.1,822.3 L362.3,812.6 L363.6,786.7 L364.6,792.6 L365.9,813.4 L366.8,818.5 L367.7,822.0 L368.6,820.2 L369.8,803.0 L371.1,811.0 L372.0,817.1 L372.9,821.3 L373.7,822.8 L375.0,822.5 L376.1,799.9 L376.9,778.6 L378.2,795.2 L379.3,808.9 L380.6,820.1 L381.7,808.2 L382.9,804.5 L383.9,814.4 L385.1,820.8 L386.3,822.7 L387.3,817.4 L388.2,803.4 L389.4,802.6 L390.6,815.3 L391.8,812.4 L392.6,809.6 L393.5,814.4 L394.6,810.5 L395.4,797.6 L396.3,795.5 L397.5,811.0 L398.4,801.9 L399.4,795.6 L400.7,810.6 L401.6,818.1 L402.8,814.2 L404.1,816.6 L405.1,806.3 L406.2,794.9 L407.1,805.8 L408.1,816.8 L409.4,817.9 L410.5,795.1 L411.3,794.5 L412.1,803.4 L413.0,816.2 L414.0,808.1 L415.2,809.0 L416.1,816.2 L416.9,820.6 L417.8,822.2 L418.9,823.3 L420.1,823.9 L421.4,822.3 L422.5,821.1 L423.6,817.8 L424.7,822.7 L426.0,823.8 L426.9,823.6 L428.0,821.0 L429.3,816.3 L430.3,808.5 L431.6,813.7 L432.4,821.0 L433.6,815.6 L434.8,815.9 L435.7,817.7 L436.6,815.8 L437.7,818.9 L439.0,822.4 L439.8,823.2 L440.8,822.4 L441.9,818.1 L442.8,818.7 L444.1,822.3 L445.3,823.3 L446.2,822.3 L447.3,823.3 L448.4,810.0 L449.5,800.9 L450.3,806.3 L451.6,813.6 L452.6,821.8 L453.8,818.6 L454.8,816.6 L456.1,803.0 L456.9,807.1 L458.0,817.1 L459.1,809.2 L460.0,807.2 L460.9,814.6 L461.9,813.1 L462.8,813.9 L463.9,819.8 L465.0,818.2 L466.2,822.9 L467.1,823.3 L468.0,817.1 L468.9,815.7 L469.8,818.3 L470.8,818.0 L471.8,820.4 L472.7,823.2 L474.0,824.0 L475.2,819.7 L476.1,803.8 L476.9,798.1 L478.0,810.4 L478.9,817.0 L480.2,822.0 L481.4,820.9 L482.4,808.0 L483.4,805.6 L484.6,813.2 L485.6,818.1 L486.5,822.8 L487.3,822.6 L488.4,823.1 L489.4,822.0 L490.7,819.3 L492.0,803.5 L493.2,797.9 L494.4,813.6 L495.6,820.3 L496.5,821.7 L497.3,821.5 L498.4,804.7 L499.5,802.5 L500.6,813.8 L501.9,820.8 L503.1,817.4 L504.2,820.6 L505.2,824.1 L506.2,822.7 L507.4,819.4 L508.7,822.5 L509.8,819.8 L510.9,820.6 L512.2,824.1 L513.1,824.0 L513.9,818.9 L515.0,821.4 L515.9,822.3 L516.9,820.0 L517.7,823.3 L518.5,820.6 L519.8,820.8 L520.0,819.7 L521.5,816.0 L523.7,812.3 L525.0,818.0 L526.2,823.5 L528.0,821.0 L529.9,820.4 L533.0,822.0 L536.1,821.0 L537.5,818.0 L539.2,814.8 L541.1,822.8 L542.5,821.0 L544.2,819.7 L547.3,816.0 L549.0,818.0 L551.0,820.4 L553.0,821.0 L555.3,819.7 L557.2,823.5 L560.9,817.3 L562.7,814.8 L563.8,812.0 L564.6,806.1 L565.5,810.0 L566.5,808.6 L567.7,824.7 L569.5,824.2 L572.0,820.4 L574.0,822.0 L575.8,821.0 L579.5,822.2 L583.2,824.7 L585.7,817.3 L589.4,816.0 L594.0,814.8 L598.1,813.5 L600.5,822.2 L604.3,821.0 L606.0,822.0 L608.0,823.5 L611.7,821.0 L615.4,814.8 L619.1,814.2 L622.9,818.5 L625.3,818.5 L627.8,812.3 L630.3,807.3 L632.8,812.3 L635.2,808.6 L639.0,819.7 L642.7,816.0 L646.4,804.9 L648.9,799.9 L652.6,796.2 L653.9,779.0 L655.0,790.0 L656.5,777.2 L658.0,786.0 L661.0,787.8 L663.0,780.0 L665.4,777.2 L668.0,796.6 L670.0,782.0 L671.1,783.0 L672.3,794.5 L673.4,798.4 L674.3,797.4 L675.1,786.4 L676.0,784.0 L677.1,769.5 L678.2,781.7 L679.3,763.0 L680.1,773.5 L681.0,778.0 L681.9,769.5 L682.8,782.8 L683.7,777.8 L684.9,783.0 L686.0,784.0 L687.0,779.8 L688.0,780.0 L689.0,787.3 L690.0,786.0 L690.9,780.3 L691.7,787.8 L692.6,788.1 L693.8,784.7 L695.0,778.0 L696.0,778.3 L697.0,783.9 L698.0,780.0 L698.9,777.9 L699.9,771.7 L700.8,770.0 L701.9,768.0 L703.0,767.4 L704.0,776.3 L705.0,776.0 L706.0,768.1 L707.0,786.0 L707.9,780.8 L708.8,756.0 L709.8,741.5 L710.9,759.8 L711.9,734.8 L713.0,752.0 L713.9,742.1 L714.8,754.0 L715.9,751.8 L717.0,745.0 L718.2,740.7 L719.4,740.0 L720.2,746.3 L721.0,748.0 L721.9,725.5 L722.8,745.0 L723.7,723.0 L724.9,747.0 L726.0,740.0 L727.0,737.6 L728.1,754.0 L729.6,760.0 L730.8,738.4 L732.0,732.0 L733.0,752.9 L734.0,722.0 L735.0,708.5 L736.0,712.0 L737.2,717.0 L738.5,705.2 L739.8,709.2 L741.0,720.0 L742.0,731.5 L743.0,736.3 L744.0,695.0 L745.0,721.7 L746.0,683.0 L747.0,718.6 L748.0,700.0 L749.0,687.4 L750.0,690.0 L751.0,697.2 L752.0,687.2 L753.0,692.0 L754.0,676.5 L755.0,680.0 L755.9,689.1 L756.9,663.4 L757.8,662.2 L758.8,662.7 L759.7,684.7 L760.7,691.9 L761.9,680.5 L763.0,660.0 L764.1,644.8 L765.2,638.5 L766.1,652.2 L767.0,650.0 L768.0,645.0 L769.0,665.1 L770.1,628.6 L771.1,623.7 L772.6,681.5 L773.8,672.7 L775.0,640.0 L776.0,621.8 L777.0,611.9 L778.0,637.8 L779.0,640.0 L780.2,625.9 L781.5,665.2 L782.2,645.0 L783.3,646.5 L784.4,660.4 L785.5,656.0 L786.6,649.5 L787.7,614.4 L788.8,618.7 L789.6,581.4 L790.5,600.0 L791.3,590.9 L792.1,535.2 L793.2,588.0 L794.3,557.0 L795.4,614.3 L796.5,622.1 L797.5,585.0 L798.6,590.8 L799.8,631.9 L800.9,631.6 L802.0,594.5 L803.1,622.1 L804.2,675.8 L805.3,665.3 L806.4,596.7 L807.5,577.0 L808.6,572.5 L809.8,598.5 L811.0,590.0 L812.0,588.2 L813.0,605.5 L814.1,601.9 L815.2,587.9 L816.3,583.5 L817.1,570.4 L818.0,595.0 L818.9,591.3 L819.8,567.4 L820.7,563.7 L821.8,598.9 L822.6,597.0 L823.5,575.0 L825.0,561.5 L826.1,594.9 L827.3,607.7 L828.4,557.9 L829.4,593.8 L830.5,538.5 L831.6,587.0 L832.7,592.3 L833.9,558.3 L835.0,565.0 L836.1,561.6 L837.1,548.0 L838.2,560.6 L839.3,539.0 L840.1,542.8 L841.0,560.0 L842.1,548.4 L843.3,527.0 L844.2,529.8 L845.1,555.0 L846.0,560.0 L847.1,553.9 L848.2,524.0 L849.2,534.0 L850.2,571.5 L851.2,576.5 L852.1,567.9 L853.1,547.6 L854.0,540.0 L855.0,524.5 L856.0,550.0 L857.0,541.4 L858.0,520.2 L859.0,513.3 L860.0,520.4 L861.0,573.0 L862.0,580.5 L863.0,565.8 L864.0,530.0 L865.0,516.2 L866.0,544.7 L867.0,505.3 L868.0,534.5 L869.0,540.0 L870.0,495.8 L870.9,518.9 L871.9,471.7 L872.9,554.6 L873.9,570.6 L874.7,503.8 L875.5,530.0 L876.6,559.7 L877.8,501.4 L878.9,506.9 L880.0,560.0 L880.9,621.1 L881.8,628.0 L882.8,604.0 L883.9,600.7 L885.0,540.0 L885.9,513.1 L886.8,555.3 L887.7,507.3 L888.7,565.7 L889.7,588.4 L890.9,536.3 L892.0,540.0 L893.0,577.4 L894.0,520.0 L894.9,507.4 L895.7,522.1 L896.6,505.3 L897.6,557.6 L898.6,534.0 L899.6,586.4 L901.0,530.0 L901.8,543.0 L902.6,479.6 L904.0,540.0 L905.2,568.6 L906.5,578.5 L907.8,549.2 L909.0,550.0 L910.2,555.1 L911.4,533.0 L912.2,516.5 L913.0,560.0 L914.4,620.0 L915.4,495.5 L916.2,594.9 L917.0,560.0 L918.1,530.9 L919.2,611.4 L920.3,616.0 L921.1,604.5 L922.0,560.0 L923.1,515.8 L924.2,584.3 L925.3,482.6 L926.1,564.8 L927.0,540.0 L928.0,527.6 L929.0,580.0 L930.1,599.0 L931.2,610.0 L932.0,560.0 L933.0,585.1 L934.0,546.9 L935.0,553.9 L936.0,580.0 L937.0,579.9 L938.1,550.8 L939.0,554.1 L940.0,590.0 L941.0,586.4 L942.0,570.0 L943.0,559.3 L944.0,557.7 L945.4,661.0 L946.5,600.0 L948.0,626.0 L949.0,598.9 L950.0,616.7 L951.0,574.5 L952.1,635.0 L953.0,586.1 L954.0,598.0 L955.2,598.8 L956.1,606.0 L957.0,620.0 L958.5,646.0 L960.0,610.0 L960.9,616.0 L961.8,596.3 L963.0,640.0 L964.0,636.9 L965.0,620.0 L966.5,600.0 L968.0,630.0 L969.1,584.8 L970.2,579.5 L971.7,656.0 L972.5,619.3 L973.3,616.9 L974.1,644.0 L975.0,630.0 L976.5,620.0 L978.0,636.0 L979.5,625.0 L980.5,647.7 L981.6,659.0 L982.5,600.0 L983.3,457.9 L983.8,520.0 L984.3,640.0 L985.5,655.0 L986.8,400.0 L987.4,85.4 L988.0,85.4 L988.4,400.0 L988.6,600.0 L989.5,680.0 L991.4,764.0" stroke="#141414" stroke-width="2.2" fill="none" stroke-linejoin="round"/>
<path d="M226.0,825.7 L227.9,823.4 L228.9,820.4 L229.9,817.4 L230.8,814.5 L231.6,811.5 L232.4,808.5 L233.1,805.5 L233.8,802.6 L234.4,799.6 L235.0,796.6 L235.5,793.6 L236.0,790.7 L236.5,787.7 L236.9,784.7 L237.4,781.7 L237.8,778.8 L238.1,775.8 L238.5,772.8 L238.8,769.9 L239.1,766.9 L239.5,763.9 L239.8,760.9 L240.1,758.0 L240.4,755.0 L240.7,752.0 L241.0,749.0 L241.3,746.1 L241.6,743.1 L242.0,740.1 L242.3,737.1 L242.6,734.2 L242.9,731.2 L243.3,728.2 L243.6,725.2 L243.9,722.3 L244.3,719.3 L244.6,716.3 L244.9,713.3 L245.3,710.4 L245.6,707.4 L246.0,704.4 L246.4,701.4 L246.7,698.4 L247.1,695.4 L247.5,692.5 L247.8,689.5 L248.2,686.5 L248.6,683.5 L249.0,680.5 L249.4,677.5 L249.8,674.5 L250.2,671.5 L250.6,668.5 L251.1,665.6 L251.5,662.6 L251.9,659.6 L252.4,656.6 L252.8,653.6 L253.3,650.6 L253.7,647.6 L254.2,644.6 L254.7,641.6 L255.2,638.5 L255.6,635.5 L256.1,632.5 L256.6,629.5 L257.1,626.5 L257.6,623.5 L258.1,620.5 L258.6,617.5 L259.1,614.5 L259.7,611.5 L260.2,608.4 L260.7,605.4 L261.2,602.4 L261.7,599.4 L262.3,596.4 L262.8,593.4 L263.3,590.4 L263.8,587.4 L264.4,584.3 L264.9,581.3 L265.4,578.3 L266.0,575.3 L266.5,572.3 L267.0,569.3 L267.6,566.3 L268.1,563.2 L268.6,560.2 L269.1,557.2 L269.7,554.2 L270.2,551.2 L270.7,548.2 L271.2,545.2 L271.8,542.2 L272.3,539.2 L272.8,536.2 L273.3,533.2 L273.8,530.1 L274.3,527.1 L274.8,524.1 L275.3,521.1 L275.8,518.1 L276.2,515.1 L276.7,512.1 L277.2,509.1 L277.7,506.2 L278.1,503.2 L278.6,500.2 L279.0,497.2 L279.5,494.2 L279.9,491.2 L280.3,488.2 L280.8,485.2 L281.2,482.3 L281.6,479.3 L282.0,476.3 L282.4,473.3 L282.7,470.4 L283.1,467.4 L283.5,464.4 L283.9,461.5 L284.3,458.5 L284.7,455.5 L285.0,452.6 L285.4,449.6 L285.9,446.7 L286.3,443.7 L286.7,440.8 L287.1,437.8 L287.6,434.9 L288.1,431.9 L288.6,429.0 L289.1,426.1 L289.6,423.1 L290.2,420.2 L290.8,417.3 L291.4,414.4 L292.1,411.5 L292.7,408.5 L293.4,405.6 L294.2,402.7 L295.0,399.8 L295.8,396.9 L296.7,394.0 L297.6,391.1 L298.5,388.3 L299.5,385.4 L300.5,382.5 L301.6,379.6 L302.7,376.8 L303.8,374.0 L305.0,371.1 L306.2,368.3 L307.4,365.5 L308.7,362.7 L310.0,359.9 L311.3,357.2 L312.7,354.4 L314.1,351.7 L315.6,349.0 L317.0,346.3 L318.5,343.7 L320.1,341.0 L321.6,338.4 L323.2,335.8 L324.9,333.2 L326.5,330.7 L328.2,328.1 L329.9,325.6 L331.7,323.2 L333.4,320.7 L335.2,318.3 L337.1,315.9 L338.9,313.5 L340.8,311.2 L342.7,308.9 L344.7,306.6 L346.6,304.3 L348.6,302.1 L350.6,299.8 L352.6,297.6 L354.7,295.5 L356.8,293.3 L358.9,291.2 L361.0,289.0 L363.2,287.0 L365.3,284.9 L367.5,282.8 L369.8,280.8 L372.0,278.8 L374.2,276.8 L376.5,274.8 L378.8,272.8 L381.1,270.9 L383.5,269.0 L385.8,267.1 L388.2,265.2 L390.6,263.3 L393.0,261.4 L395.4,259.6 L397.8,257.7 L400.2,255.9 L402.7,254.1 L405.1,252.3 L407.6,250.5 L410.1,248.7 L412.6,247.0 L415.1,245.2 L417.6,243.5 L420.1,241.8 L422.6,240.0 L425.1,238.3 L427.7,236.6 L430.2,234.9 L432.8,233.3 L435.3,231.6 L437.8,229.9 L440.4,228.2 L442.9,226.6 L445.5,224.9 L448.0,223.3 L450.6,221.6 L453.1,220.0 L455.7,218.3 L458.2,216.7 L460.7,215.1 L463.3,213.5 L465.8,211.8 L468.3,210.2 L470.9,208.6 L473.4,207.0 L476.0,205.4 L478.5,203.8 L481.1,202.3 L483.6,200.7 L486.2,199.1 L488.7,197.6 L491.3,196.0 L493.9,194.5 L496.5,192.9 L499.0,191.4 L501.6,189.9 L504.2,188.4 L506.8,186.9 L509.5,185.4 L512.1,183.9 L514.7,182.4 L517.4,180.9 L520.0,179.5 L522.7,178.0 L525.4,176.6 L528.1,175.2 L530.8,173.8 L533.5,172.4 L536.2,171.0 L539.0,169.6 L541.8,168.3 L544.6,166.9 L546.0,167.7 L547.8,169.8 L549.6,176.2 L550.6,174.1 L552.7,174.1 L555.6,175.8 L558.4,173.7 L561.9,173.4 L565.5,174.4 L568.3,175.8 L570.4,178.0 L572.2,175.8 L574.7,178.0 L577.2,180.1 L580.4,178.3 L583.9,176.2 L586.7,173.4 L590.3,172.0 L593.1,175.8 L595.9,171.2 L598.0,168.4 L601.6,167.7 L605.1,165.6 L610.8,164.2 L614.3,163.8 L617.2,161.7 L620.0,162.2 L625.7,159.6 L627.1,161.0 L634.2,158.1 L644.1,156.0 L644.8,158.8 L645.5,155.5 L648.3,153.9 L659.6,151.1 L676.6,144.7 L690.8,140.4 L700.7,138.3 L701.8,141.2 L702.8,137.8 L705.0,136.9 L719.1,132.7 L736.1,127.7 L753.1,123.5 L767.3,121.3 L770.0,121.5 L774.3,119.2 L777.2,121.3 L778.3,118.0 L780.0,117.1 L797.7,110.4 L815.4,105.1 L842.0,100.4 L842.8,103.4 L843.8,100.0 L850.8,97.2 L877.3,91.0 L903.9,84.8 L917.2,82.1 L918.0,85.7 L918.9,81.8 L921.6,81.2 L939.3,77.3 L955.2,73.3 L958.5,73.3 L960.5,74.2 L960.7,74.7 L961.1,75.4 L961.5,76.4 L961.8,78.0 L962.0,80.4 L962.2,83.3 L962.4,86.6 L962.6,90.0 L962.8,93.6 L962.9,97.6 L963.1,101.5 L963.3,105.0 L963.6,108.1 L963.8,110.9 L964.1,113.5 L964.5,116.0 L964.9,118.3 L965.4,120.5 L965.8,122.7 L966.3,125.0 L966.8,127.4 L967.3,129.8 L967.8,132.5 L968.3,136.0 L968.9,140.6 L969.5,145.9 L970.0,151.6 L970.6,156.8 L971.1,161.5 L971.6,166.1 L972.0,170.5 L972.5,175.0 L972.9,179.5 L973.4,183.9 L973.8,188.4 L974.2,193.0 L974.6,197.7 L974.9,202.5 L975.3,207.3 L975.6,212.0 L975.9,216.3 L976.1,220.3 L976.4,224.5 L976.6,229.4 L976.8,235.1 L977.0,241.4 L977.2,248.1 L977.4,255.0 L977.6,262.2 L977.8,269.8 L978.0,277.5 L978.3,285.0 L978.7,292.3 L979.2,299.5 L979.8,306.7 L980.3,313.9 L980.8,321.1 L981.2,328.4 L981.6,335.6 L982.0,342.7 L982.3,349.7 L982.7,356.6 L982.9,363.4 L983.2,370.0 L983.4,376.1 L983.5,381.9 L983.7,387.8 L983.9,394.6 L984.2,402.5 L984.7,411.1 L985.1,420.1 L985.5,429.0 L985.8,437.4 L986.1,445.7 L986.4,454.6 L986.6,465.0 L986.8,476.8 L986.9,489.8 L987.0,504.0 L987.1,520.0 L987.2,538.4 L987.2,558.8 L987.2,579.8 L987.2,600.0 L987.2,620.9 L987.1,642.5 L987.0,661.6 L987.0,675.0" stroke="#0000ff" stroke-width="2.0" fill="none" stroke-linejoin="round"/>
<g font-family="Liberation Serif, serif" font-size="27" fill="#ff0000" stroke="#ff0000" stroke-width="0.2" text-anchor="end">
<text x="108.3" y="830.7">0</text>
<text x="108.3" y="745.2">10</text>
<text x="108.3" y="659.7">20</text>
<text x="108.3" y="574.1">30</text>
<text x="108.3" y="488.6">40</text>
<text x="108.3" y="403.1">50</text>
<text x="108.3" y="317.6">60</text>
<text x="108.3" y="232.0">70</text>
<text x="108.3" y="146.5">80</text>
<text x="108.3" y="61.0">90</text>
</g>
<g font-family="Liberation Serif, serif" font-size="27" fill="#111" stroke="#111" stroke-width="0.3" text-anchor="end">
<text x="215.4" y="830.0">0</text>
<text x="215.4" y="733.8">2</text>
<text x="215.4" y="637.6">4</text>
<text x="215.4" y="541.4">6</text>
<text x="215.4" y="445.2">8</text>
<text x="215.4" y="348.9">10</text>
<text x="215.4" y="252.7">12</text>
<text x="215.4" y="156.5">14</text>
<text x="215.4" y="60.3">16</text>
</g>
<g font-family="Liberation Sans, sans-serif" font-size="26" fill="#0000ff" stroke="#0000ff" stroke-width="0.45" text-anchor="start">
<text x="1033.5" y="830.8" textLength="12.5" lengthAdjust="spacingAndGlyphs">0</text>
<text x="1033.5" y="745.3" textLength="25.0" lengthAdjust="spacingAndGlyphs">50</text>
<text x="1033.5" y="659.8" textLength="37.5" lengthAdjust="spacingAndGlyphs">100</text>
<text x="1033.5" y="574.2" textLength="37.5" lengthAdjust="spacingAndGlyphs">150</text>
<text x="1033.5" y="488.7" textLength="37.5" lengthAdjust="spacingAndGlyphs">200</text>
<text x="1033.5" y="403.2" textLength="37.5" lengthAdjust="spacingAndGlyphs">250</text>
<text x="1033.5" y="317.7" textLength="37.5" lengthAdjust="spacingAndGlyphs">300</text>
<text x="1033.5" y="232.1" textLength="37.5" lengthAdjust="spacingAndGlyphs">350</text>
<text x="1033.5" y="146.6" textLength="37.5" lengthAdjust="spacingAndGlyphs">400</text>
<text x="1033.5" y="61.1" textLength="37.5" lengthAdjust="spacingAndGlyphs">450</text>
</g>
<g font-family="Liberation Serif, serif" font-size="27" fill="#111" stroke="#111" stroke-width="0.3" text-anchor="middle">
<text x="224.5" y="855.3">0</text>
<text x="335.5" y="855.3">1</text>
<text x="446.5" y="855.3">2</text>
<text x="557.5" y="855.3">3</text>
<text x="668.5" y="855.3">4</text>
<text x="779.5" y="855.3">5</text>
<text x="890.5" y="855.3">6</text>
<text x="1001.5" y="855.3">7</text>
</g>
<text x="229.3" y="45.8" font-family="Liberation Serif, serif" font-size="25" fill="#111">×</text>
<text x="246.3" y="44.8" font-family="Liberation Serif, serif" font-size="27" fill="#111" stroke="#111" stroke-width="0.3">10</text>
<text x="272" y="30.4" font-family="Liberation Serif, serif" font-size="16" fill="#111">4</text>
<text x="560.3" y="891.4" font-family="Liberation Serif, serif" font-size="25.5" fill="#111" stroke="#111" stroke-width="0.45" textLength="106" lengthAdjust="spacingAndGlyphs">strain, %</text>
<text x="362" y="719.5" font-family="Liberation Serif, serif" font-size="25" fill="#111" stroke="#111" stroke-width="0.35" textLength="241" lengthAdjust="spacingAndGlyphs">acoustic calm period</text>
<text transform="translate(63.5,528.5) rotate(-90)" font-family="Liberation Serif, serif" font-size="28" fill="#ff0000" textLength="178" lengthAdjust="spacingAndGlyphs">Amplitudes,dB</text>
<text transform="translate(169,550) rotate(-90)" font-family="Liberation Serif, serif" font-size="31" fill="#111" stroke="#111" stroke-width="0.6" textLength="221" lengthAdjust="spacingAndGlyphs">AE hits rate, 1/s</text>
<text transform="translate(1101,506.5) rotate(-90)" font-family="Liberation Sans, sans-serif" font-size="25.5" fill="#0000ff" textLength="127" lengthAdjust="spacingAndGlyphs">Stress, MPa</text>
</g>
</svg></body></html>
